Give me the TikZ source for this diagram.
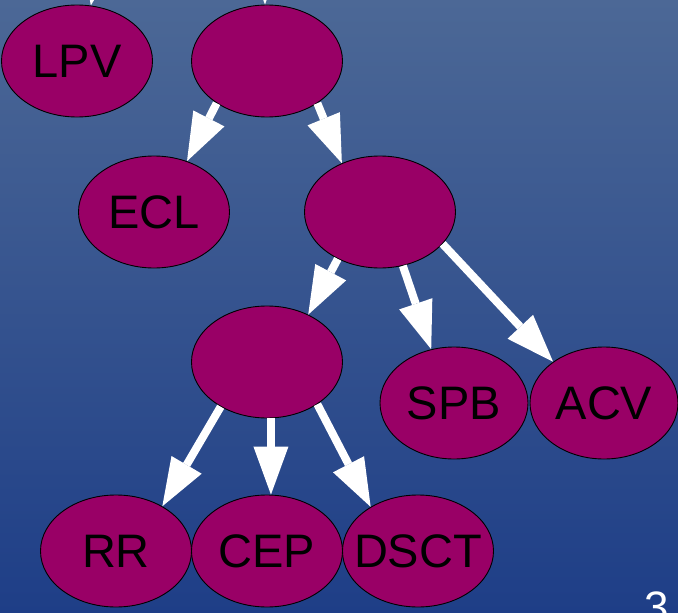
\documentclass[tikz,border=0pt]{standalone}
\usepackage{fontspec}
\setmainfont{Liberation Sans}
\usetikzlibrary{arrows.meta,shapes.geometric}
\definecolor{bgtop}{RGB}{76,104,150}
\definecolor{bgbot}{RGB}{30,62,135}
\definecolor{nodefill}{RGB}{153,0,102}
\tikzset{
  cls/.style={ellipse, draw=black, line width=0.9pt, fill=nodefill,
    minimum width=151pt, minimum height=112pt, inner sep=0pt},
  lbl/.style={inner sep=0pt, font=\fontsize{47}{47}\selectfont, text=black},
  edge/.style={draw=white, line width=8pt,
    -{Triangle[length=48pt,width=35pt,line width=0pt]}},
}
\begin{document}
\begin{tikzpicture}[x=1pt,y=-1pt]
\useasboundingbox (0,0) rectangle (678,613);
\clip (0,0) rectangle (678,613);
\shade[top color=bgtop, bottom color=bgbot] (0,0) rectangle (678,613);
% nodes
\node[cls, label={[lbl]center:LPV}] (lpv) at (77,61) {};
\node[cls] (a) at (267,61) {};
\node[cls, label={[lbl]center:ECL}] (ecl) at (154,212) {};
\node[cls] (b) at (380,212) {};
\node[cls] (c) at (267,362) {};
\node[cls, minimum width=148pt, label={[lbl]center:SPB}] (spb) at (454,403) {};
\node[cls, minimum width=148pt, label={[lbl]center:ACV}] (acv) at (604,403) {};
\node[cls, minimum width=151pt, label={[lbl]center:RR}] (rr) at (116,551) {};
\node[cls, minimum width=151pt, label={[lbl]center:CEP}] (cep) at (267,551) {};
\node[cls, minimum width=151pt, label={[lbl]center:DSCT}] (dsct) at (418,551) {};
% free ends above the picture
\coordinate (inl) at (100,-45);
\coordinate (ina) at (264,-45);
% edges
\draw[edge] (inl) -- (lpv.76);
\draw[edge] (ina) -- (a.92);
\draw[edge] (a.220) -- (ecl.57);
\draw[edge] (a.320) -- (b.128);
\draw[edge] (b.228) -- (c.49);
\draw[edge] (b.293) -- (spb.113);
\draw[edge] (b.333) -- (acv.141);
\draw[edge] (c.224) -- (rr.44);
\draw[edge] (c.274) -- (cep.86);
\draw[edge] (c.320) -- (dsct.137);
% page number
\node[anchor=base, text=white, font=\fontsize{44}{44}\selectfont, inner sep=0pt] (pg) at (657,622) {3};
\end{tikzpicture}
\end{document}
